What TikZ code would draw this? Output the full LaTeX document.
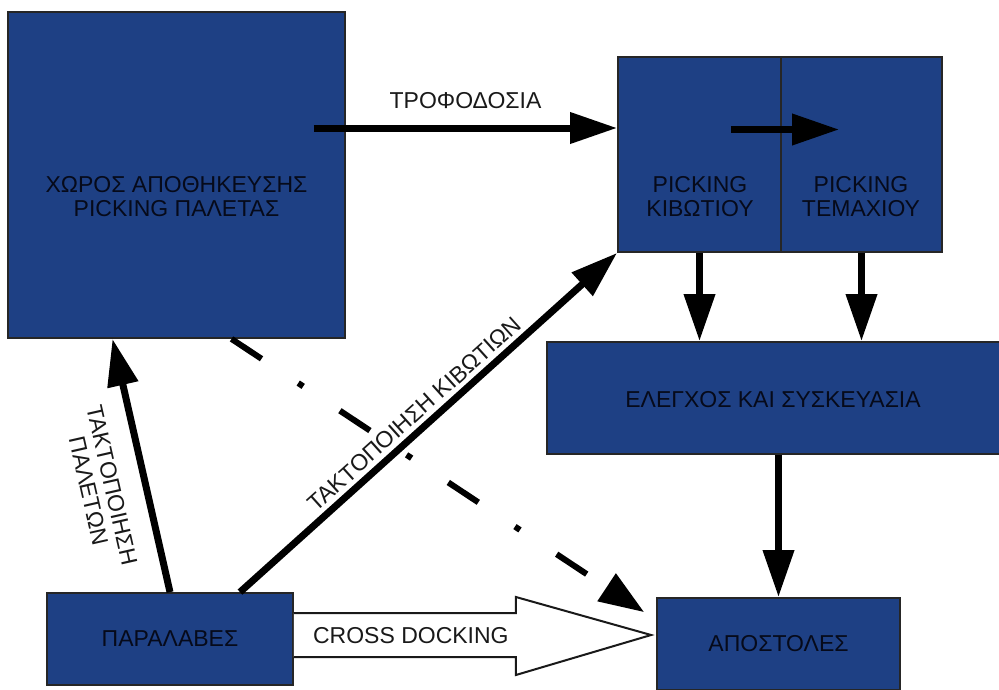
\documentclass[tikz,border=0pt]{standalone}
\usepackage{fontspec}
\setmainfont{Liberation Sans}
\usepackage{xcolor}
\usepackage{tikz}
\usetikzlibrary{arrows.meta, calc}
\definecolor{bayblue}{RGB}{30,64,132}
\definecolor{baytext}{RGB}{6,10,26}
\tikzset{
  bay/.style={draw=black!85, line width=1.8pt, fill=bayblue, inner sep=0pt},
  baytxt/.style={text=baytext, align=center, font=\fontsize{23}{24}\selectfont},
  tag/.style={text=black!90, align=center, font=\fontsize{23}{24}\selectfont},
  flow/.style={line width=7pt, -{Triangle[length=47pt, width=30pt]}},
  rush/.style={line width=6pt, dash pattern=on 36pt off 44pt on 6pt off 44pt,
    -{Triangle[length=45pt, width=32pt]}},
  hollow/.style={line width=2pt, draw=black!90, fill=white}
}

\begin{document}
\begin{tikzpicture}[x=1pt, y=-1pt]
            \useasboundingbox (0,0) rectangle (999,689);

            %Nodes
            \node[bay, minimum width=337pt, minimum height=326pt] at (176.5,175) (store) {};
            \node[baytxt] at (176.5,197) (storetxt) {ΧΩΡΟΣ ΑΠΟΘΗΚΕΥΣΗΣ\\PICKING ΠΑΛΕΤΑΣ};
            \node[bay, minimum width=163pt, minimum height=195pt] at (699.5,154.5) (pickbox) {};
            \node[bay, minimum width=161pt, minimum height=195pt] at (861.5,154.5) (pickitem) {};
            \node[baytxt] at (700,197) (pickboxtxt) {PICKING\\ΚΙΒΩΤΙΟΥ};
            \node[baytxt] at (861,197) (pickitemtxt) {PICKING\\ΤΕΜΑΧΙΟΥ};
            \node[bay, minimum width=456pt, minimum height=112pt] at (775,398) (check) {};
            \node[baytxt] at (773,400) (checktxt) {ΕΛΕΓΧΟΣ ΚΑΙ ΣΥΣΚΕΥΑΣΙΑ};
            \node[bay, minimum width=246pt, minimum height=92pt, baytxt] at (170,639) (rec) {ΠΑΡΑΛΑΒΕΣ};
            \node[bay, minimum width=243pt, minimum height=92pt, baytxt] at (778.5,644) (dis) {ΑΠΟΣΤΟΛΕΣ};

            %Points
            \coordinate (feed) at ($(store.east)+(-32,-47)$);
            \coordinate (sortA) at ($(pickbox.east)+(-51,-25)$);
            \coordinate (sortB) at ($(pickitem.west)+(59,-25)$);
            \coordinate (late) at ($(dis.north west)+(-12,15)$);
            \coordinate (docktip) at ($(dis.west)+(-5,-9)$);

            %Lines
            \draw[flow] (feed) -- (feed -| pickbox.west)
              node[midway, above=12pt, tag] (feedtag) {ΤΡΟΦΟΔΟΣΙΑ};
            \draw[flow] (sortA) -- (sortB);
            \draw[flow] (pickbox.south) -- (pickbox.south |- check.north);
            \draw[flow] (pickitem.south) -- (pickitem.south |- check.north);
            \draw[flow] (dis.north |- check.south) -- (dis.north);
            \draw[flow] (rec.north) -- ($(store.south)+(-64,0)$)
              node[pos=0.45, sloped, below=18pt, tag] (pallettag) {ΤΑΚΤΟΠΟΙΗΣΗ\\ΠΑΛΕΤΩΝ};
            \draw[flow] ($(rec.north)+(70,0)$) -- (pickbox.south west)
              node[pos=0.49, sloped, above=1pt, tag] (boxtag) {ΤΑΚΤΟΠΟΙΗΣΗ ΚΙΒΩΤΙΩΝ};
            \draw[rush] ($(store.south)+(55,0)$) -- (late);

            %Cross docking
            \draw[hollow] ($(rec.east)+(0,-26)$) -- ++(222,0) -- ++(0,-16) -- (docktip)
              -- ($(rec.east)+(222,36)$) -- ++(0,-18) -- ($(rec.east)+(0,18)$);
            \node[tag] at ($(rec.east)+(117,-3)$) (docktag) {CROSS DOCKING};
        \end{tikzpicture}
\end{document}
